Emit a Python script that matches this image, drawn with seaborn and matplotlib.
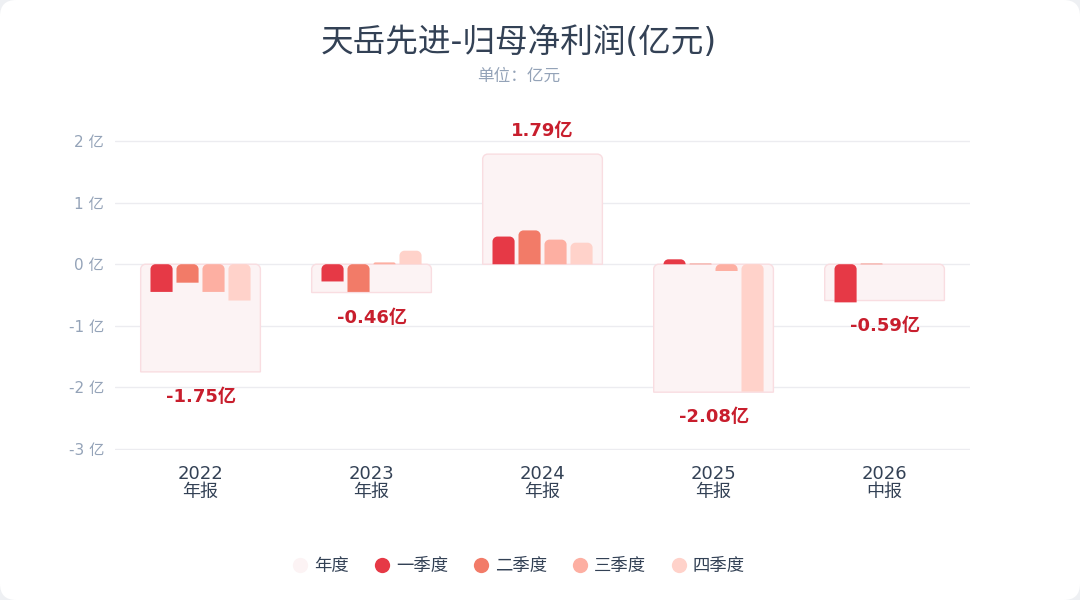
import matplotlib.pyplot as plt
import seaborn as sns
import numpy as np
import pandas as pd
from matplotlib.patches import FancyBboxPatch, PathPatch
from matplotlib.path import Path
from matplotlib.lines import Line2D

# data (亿元)
periods = ['2022\n年报', '2023\n年报', '2024\n年报', '2025\n年报', '2026\n中报']
annual = [-1.75, -0.46, 1.79, -2.08, -0.59]
q1 = [-0.45, -0.28, 0.45, 0.08, -0.62]
q2 = [-0.30, -0.45, 0.55, 0.01, 0.01]
q3 = [-0.45, 0.03, 0.40, -0.11, np.nan]
q4 = [-0.59, 0.22, 0.35, -2.07, np.nan]
quarter_names = ['一季度', '二季度', '三季度', '四季度']
quarter_colors = ['#e63946', '#f27b68', '#fdafa2', '#ffd2ca']
annual_color = '#fcf3f4'
annual_edge = '#f9dde1'
label_color = '#c81e2d'

sns.set_theme(style='white')
plt.rcParams['font.family'] = ['DejaVu Sans', 'Noto Sans CJK SC']

# long table for the quarterly bars
rows = []
for name, vals in zip(quarter_names, [q1, q2, q3, q4]):
    for p, v in zip(periods, vals):
        if not np.isnan(v):
            rows.append({'period': p, 'quarter': name, 'value': v})
qdf = pd.DataFrame(rows)
adf = pd.DataFrame({'period': periods, 'value': annual})

fig = plt.figure(figsize=(10.8, 6), dpi=100, facecolor='#eef0f3')
card = FancyBboxPatch((0, 0), 1, 1, boxstyle='round,pad=0,rounding_size=0.015',
                      transform=fig.transFigure, facecolor='white', edgecolor='none',
                      mutation_aspect=1.8, zorder=-10)
fig.patches.append(card)

ax = fig.add_axes([0.1065, 0.25, 0.7917, 0.5167])
ax.set_facecolor('none')

sns.barplot(data=adf, x='period', y='value', order=periods, color=annual_color,
            width=0.7, edgecolor=annual_edge, linewidth=1, saturation=1, ax=ax, zorder=2)
n_annual = len(ax.patches)
sns.barplot(data=qdf, x='period', y='value', hue='quarter', order=periods,
            hue_order=quarter_names, palette=quarter_colors, width=0.608, gap=0.15,
            saturation=1, ax=ax, legend=False, zorder=3)

ax.set_xlim(-0.5, 4.5)
ax.set_ylim(-3.02, 2.02)


def top_rounded(x0, x1, y0, y1, rx, ry):
    # rectangle with the two upper corners rounded
    k = 0.5523
    verts = [(x0, y0), (x0, y1 - ry),
             (x0, y1 - ry + k * ry), (x0 + rx - k * rx, y1), (x0 + rx, y1),
             (x1 - rx, y1),
             (x1 - rx + k * rx, y1), (x1, y1 - ry + k * ry), (x1, y1 - ry),
             (x1, y0), (x0, y0)]
    codes = [Path.MOVETO, Path.LINETO,
             Path.CURVE4, Path.CURVE4, Path.CURVE4,
             Path.LINETO,
             Path.CURVE4, Path.CURVE4, Path.CURVE4,
             Path.LINETO, Path.CLOSEPOLY]
    return Path(verts, codes)


# swap bars for ones with rounded top corners
px_x = 171.0
px_y = 62.0
for i, bar in enumerate(list(ax.patches)):
    x, y = bar.get_x(), bar.get_y()
    w, h = bar.get_width(), bar.get_height()
    if np.isnan(h) or h == 0:
        bar.remove()
        continue
    lo, hi = (y, y + h) if h > 0 else (y + h, y)
    r_px = min(5.0, (hi - lo) * px_y)
    path = top_rounded(x, x + w, lo, hi, r_px / px_x, r_px / px_y)
    pp = PathPatch(path, facecolor=bar.get_facecolor(),
                   edgecolor=bar.get_edgecolor() if i < n_annual else 'none',
                   linewidth=1 if i < n_annual else 0, zorder=bar.get_zorder())
    ax.add_patch(pp)
    bar.remove()

# annual value labels
for i, v in enumerate(annual):
    ax.annotate(f'{v:.2f}亿', (i, v), xytext=(0, 17 if v > 0 else -18),
                textcoords='offset points', ha='center', va='center',
                fontsize=13, fontweight='bold', color=label_color, zorder=5)

ax.set_yticks([-3, -2, -1, 0, 1, 2])
ax.set_yticklabels([f'{t} 亿' for t in [-3, -2, -1, 0, 1, 2]])
ax.yaxis.grid(True, color='#ececf0', linewidth=1)
ax.set_axisbelow(True)
for s in ax.spines.values():
    s.set_visible(False)
ax.tick_params(axis='y', length=0, pad=8, labelsize=11, labelcolor='#94a3b8')
ax.tick_params(axis='x', length=0, pad=11, labelsize=13, labelcolor='#334155')
for lab in ax.get_xticklabels():
    lab.set_linespacing(0.95)
ax.set_xlabel('')
ax.set_ylabel('')

cx = 0.48
fig.text(cx, 0.930, '天岳先进-归母净利润(亿元)', ha='center', va='center',
         fontsize=23.5, color='#334155')
fig.text(cx, 0.873, '单位：亿元', ha='center', va='center', fontsize=12, color='#94a3b8')

handles = [Line2D([], [], marker='o', linestyle='none', markersize=11,
                  markerfacecolor=annual_color, markeredgecolor='none')]
handles += [Line2D([], [], marker='o', linestyle='none', markersize=11,
                   markerfacecolor=c, markeredgecolor='none') for c in quarter_colors]
fig.legend(handles, ['年度'] + quarter_names, loc='center', bbox_to_anchor=(cx, 0.057),
           ncol=5, frameon=False, fontsize=12.5, handlelength=1.0, handletextpad=0.3,
           columnspacing=1.4, labelcolor='#334155')

fig.savefig('out.png', dpi=100, facecolor=fig.get_facecolor())
